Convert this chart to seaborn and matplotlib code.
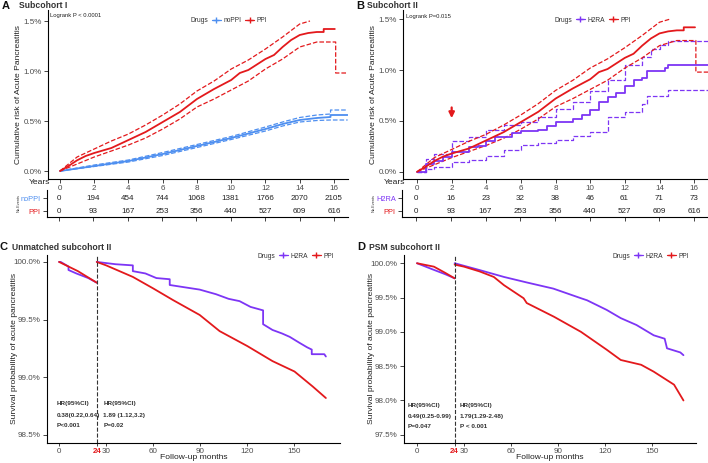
import numpy as np
import pandas as pd
import seaborn as sns
import matplotlib
matplotlib.use('Agg')
import matplotlib.pyplot as plt
from matplotlib.lines import Line2D

sns.set_style('ticks')
plt.rcParams['font.family'] = ['Liberation Sans', 'DejaVu Sans']

BLUE = '#4E8FF0'
RED = '#E3191C'
PURPLE = '#7D35F5'
GREY = '#4D4D4D'

# ---------------- data: cumulative risk (%) ----------------
ppi_t = [0, 0.5, 1, 1.5, 2, 3, 4, 5, 6, 7, 8, 9, 10, 10.5, 11, 12, 12.5, 13, 13.5, 14, 14.5, 15, 15.4, 15.4, 16.05]
ppi_v = [0, 0.05, 0.107, 0.15, 0.18, 0.23, 0.31, 0.39, 0.49, 0.59, 0.72, 0.82, 0.91, 0.98, 1.01, 1.12, 1.16, 1.24, 1.31, 1.36, 1.38, 1.39, 1.39, 1.42, 1.42]
ppi_up_t = [0, 1, 2, 3, 4, 5, 6, 7, 8, 9, 10, 11, 12, 13, 14, 14.6]
ppi_up_v = [0, 0.14, 0.22, 0.3, 0.37, 0.46, 0.56, 0.67, 0.8, 0.9, 1.02, 1.11, 1.22, 1.34, 1.47, 1.5]
ppi_lo_t = [0, 1, 2, 3, 4, 5, 6, 7, 8, 9, 10, 11, 12, 13, 14, 15, 16.1, 16.1, 16.8]
ppi_lo_v = [0, 0.07, 0.14, 0.2, 0.26, 0.33, 0.42, 0.52, 0.64, 0.72, 0.81, 0.9, 1.02, 1.12, 1.24, 1.29, 1.29, 0.98, 0.98]

noppi_t = [0, 2, 4, 6, 8, 10, 12, 13, 14, 15, 15.8, 15.8, 16.8]
noppi_v = [0, 0.05, 0.1, 0.17, 0.25, 0.33, 0.42, 0.47, 0.51, 0.53, 0.54, 0.56, 0.56]
noppi_up_v = [0, 0.06, 0.11, 0.185, 0.265, 0.345, 0.44, 0.49, 0.535, 0.56, 0.57, 0.61, 0.61]
noppi_lo_v = [0, 0.045, 0.09, 0.155, 0.235, 0.315, 0.40, 0.45, 0.49, 0.505, 0.51, 0.51, 0.51]

h2ra_t = [0, 0.5, 1, 1.5, 2, 3, 3.5, 4, 4.5, 5.5, 6, 7, 7.5, 8, 9, 9.5, 10, 10.5, 11, 11.5, 12, 12.5, 13, 13.3, 14.3, 14.5, 16.8]
h2ra_v = [0, 0.08, 0.11, 0.15, 0.2, 0.24, 0.25, 0.3, 0.34, 0.38, 0.4, 0.41, 0.45, 0.49, 0.52, 0.56, 0.61, 0.69, 0.74, 0.77, 0.84, 0.9, 0.92, 0.99, 1.02, 1.05, 1.05]
h2ra_up_t = [0, 0.5, 1, 2, 3, 4, 5, 6, 7, 8, 9, 10, 11, 12, 13, 13.5, 14, 14.5, 16.8]
h2ra_up_v = [0, 0.13, 0.18, 0.3, 0.34, 0.41, 0.46, 0.49, 0.54, 0.62, 0.69, 0.79, 0.9, 1.05, 1.13, 1.21, 1.25, 1.29, 1.29]
h2ra_lo_t = [0, 0.5, 1, 2, 3, 4, 5, 6, 7, 8, 9, 10, 11, 12, 13, 13.3, 14.5, 16.8]
h2ra_lo_v = [0, 0.03, 0.05, 0.1, 0.12, 0.16, 0.21, 0.26, 0.28, 0.31, 0.35, 0.39, 0.54, 0.59, 0.67, 0.75, 0.8, 0.8]

years = [0, 2, 4, 6, 8, 10, 12, 14, 16]
events_noppi = [0, 194, 454, 744, 1068, 1381, 1766, 2070, 2105]
events_ppi = [0, 93, 167, 253, 356, 440, 527, 609, 616]
events_h2ra = [0, 16, 23, 32, 38, 46, 61, 71, 73]

# ---------------- data: survival probability (%) ----------------
c_h2ra_pre_t = [0, 1, 6, 6, 11, 18.6, 24]
c_h2ra_pre_v = [100, 100, 99.96, 99.93, 99.9, 99.86, 99.82]
c_ppi_pre_t = [0, 6, 12, 18, 24]
c_ppi_pre_v = [100, 99.96, 99.92, 99.87, 99.82]
c_h2ra_post_t = [24, 30, 36, 47, 47, 55, 62, 70.5, 70.5, 80, 89.6, 100, 108, 115, 122, 130, 130, 136, 142, 147, 153, 158, 161, 161, 169, 170]
c_h2ra_post_v = [100, 99.99, 99.98, 99.97, 99.92, 99.9, 99.86, 99.85, 99.8, 99.78, 99.76, 99.72, 99.68, 99.66, 99.61, 99.58, 99.46, 99.41, 99.38, 99.35, 99.3, 99.26, 99.24, 99.2, 99.2, 99.18]
c_ppi_post_t = [24, 30, 47, 60, 72.5, 89.6, 102.3, 120, 136, 150, 161.6, 170]
c_ppi_post_v = [100, 99.97, 99.87, 99.77, 99.67, 99.54, 99.40, 99.27, 99.14, 99.05, 98.92, 98.82]

d_h2ra_pre_t = [0, 10, 18, 24]
d_h2ra_pre_v = [100, 99.91, 99.84, 99.78]
d_ppi_pre_t = [0, 10.8, 18, 24]
d_ppi_pre_v = [100, 99.95, 99.86, 99.78]
d_h2ra_post_t = [24, 40, 55.5, 70, 87, 104.6, 108.5, 121, 130, 140, 151, 158, 159.5, 168, 170]
d_h2ra_post_v = [100, 99.9, 99.8, 99.72, 99.63, 99.49, 99.46, 99.32, 99.2, 99.1, 98.95, 98.9, 98.76, 98.7, 98.66]
d_ppi_post_t = [24, 30, 40, 49, 55.5, 68, 70, 87.4, 104.6, 121, 130, 143, 151, 164, 170]
d_ppi_post_v = [99.98, 99.95, 99.88, 99.8, 99.68, 99.49, 99.42, 99.22, 99.0, 98.74, 98.59, 98.52, 98.42, 98.23, 98.0]

months_ticks = [0, 24, 30, 60, 90, 120, 150]

fig = plt.figure(figsize=(7.08, 4.63), dpi=100)

TICK_FS = 5.8
LABEL_FS = 6.1


def add_ax(l, t, r, b):
    return fig.add_axes([l / 708, 1 - b / 463, (r - l) / 708, (b - t) / 463])


def line(ax, t, v, color, dashed=False, steps=False):
    df = pd.DataFrame({'t': t, 'v': v})
    kw = dict(linestyle='--', linewidth=0.9) if dashed else dict(linewidth=1.3)
    if steps:
        kw['drawstyle'] = 'steps-post'
    sns.lineplot(data=df, x='t', y='v', estimator=None, sort=False,
                 color=color, ax=ax, legend=False, **kw)


def style(ax):
    for s in ['top', 'right']:
        ax.spines[s].set_visible(False)
    for s in ['left', 'bottom']:
        ax.spines[s].set_linewidth(0.8)
        ax.spines[s].set_color('black')
    ax.tick_params(labelsize=TICK_FS, labelcolor=GREY, length=3, width=0.6, pad=1.5)
    ax.set_xlabel('')
    ax.set_ylabel('')


def legend(ax, names, colors, x, y):
    handles = [Line2D([], [], color='none')]
    handles += [Line2D([], [], color=c, marker='+', markersize=5, linewidth=0.9) for c in colors]
    ax.legend(handles, ['Drugs'] + names, ncol=3, loc='center', frameon=False,
              bbox_to_anchor=(x / 708, 1 - y / 463), bbox_transform=fig.transFigure,
              fontsize=4.8, handlelength=1.3, handletextpad=0.4, columnspacing=0.6,
              labelcolor='#333333')


def risk_table(l, r, ax_main, names, colors, rows):
    axt = add_ax(l, 190, r, 217)
    axt.set_xlim(ax_main.get_xlim())
    axt.set_ylim(-0.46, 1.62)
    for yi, vals in zip([1, 0], rows):
        for x, n in zip(years, vals):
            axt.text(x, yi, str(n), ha='center', va='center', fontsize=TICK_FS, color='#222222')
    axt.set_xticks(years)
    axt.set_xticklabels([])
    axt.set_yticks([1, 0])
    axt.set_yticklabels(names)
    style(axt)
    axt.tick_params(axis='y', labelsize=5.3)
    for lab, c in zip(axt.get_yticklabels(), colors):
        lab.set_color(c)
    axt.text(-28 / (r - l), 0.5, 'No.Events', rotation=90, transform=axt.transAxes,
             ha='center', va='center', fontsize=2.8, color='#333333')
    return axt


def risk_axis(ax, xlim, ylim, lab_x):
    ax.set_xlim(*xlim)
    ax.set_ylim(*ylim)
    ax.set_xticks(years)
    ax.set_yticks([0, 0.5, 1.0, 1.5])
    ax.set_yticklabels(['0.0%', '0.5%', '1.0%', '1.5%'])
    style(ax)
    ax.set_ylabel('Cumulative risk of Acute Pancreatitis', fontsize=LABEL_FS, color='#222222')
    ax.yaxis.set_label_coords(lab_x, 0.5)


# ---------------- panel A ----------------
axA = add_ax(48, 10, 348, 179)
line(axA, noppi_t, noppi_up_v, BLUE, dashed=True)
line(axA, noppi_t, noppi_lo_v, BLUE, dashed=True)
line(axA, noppi_t, noppi_v, BLUE)
line(axA, ppi_up_t, ppi_up_v, RED, dashed=True)
line(axA, ppi_lo_t, ppi_lo_v, RED, dashed=True)
line(axA, ppi_t, ppi_v, RED)
risk_axis(axA, (-0.7, 16.82), (-0.08, 1.61), -0.087)
axA.text(-0.6, 1.56, 'Logrank P < 0.0001', fontsize=4.2, color='#222222', va='center')
legend(axA, ['noPPI', 'PPI'], [BLUE, RED], 223, 21)
fig.text(40 / 708, 1 - 183 / 463, 'Years', fontsize=TICK_FS + 0.3, ha='center', va='center', color='#222222')
risk_table(47, 348, axA, ['noPPI', 'PPI'], [BLUE, RED], [events_noppi, events_ppi])

# ---------------- panel B ----------------
axB = add_ax(403, 10, 708, 179)
line(axB, h2ra_up_t, h2ra_up_v, PURPLE, dashed=True, steps=True)
line(axB, h2ra_lo_t, h2ra_lo_v, PURPLE, dashed=True, steps=True)
line(axB, ppi_up_t, ppi_up_v, RED, dashed=True)
line(axB, ppi_lo_t, ppi_lo_v, RED, dashed=True)
line(axB, h2ra_t, h2ra_v, PURPLE, steps=True)
line(axB, ppi_t, ppi_v, RED)
risk_axis(axB, (-0.81, 16.8), (-0.07, 1.59), -0.085)
axB.text(-0.65, 1.53, 'Logrank P=0.015', fontsize=4.2, color='#222222', va='center')
legend(axB, ['H2RA', 'PPI'], [PURPLE, RED], 587, 20)
axB.annotate('', xy=(2, 0.5), xytext=(2, 0.66),
             arrowprops=dict(arrowstyle='-|>', color=RED, lw=1.6, mutation_scale=8))
fig.text(395 / 708, 1 - 183 / 463, 'Years', fontsize=TICK_FS + 0.3, ha='center', va='center', color='#222222')
risk_table(402, 708, axB, ['H2RA', 'PPI'], [PURPLE, RED], [events_h2ra, events_ppi])


# ---------------- panels C / D ----------------
def surv_panel(ax, h_pre, p_pre, h_post, p_post, xlim, ylim, yticks, hr_y, left_txt, right_txt, lx, rx, lab_x):
    line(ax, *h_pre, PURPLE)
    line(ax, *p_pre, RED)
    line(ax, *h_post, PURPLE)
    line(ax, *p_post, RED)
    ax.axvline(24, color='#333333', linestyle='--', linewidth=0.8)
    ax.set_xlim(*xlim)
    ax.set_ylim(*ylim)
    ax.set_yticks(yticks)
    ax.set_yticklabels([f'{v:.1f}%' for v in yticks])
    ax.set_xticks(months_ticks)
    ax.set_xticklabels([str(m) for m in months_ticks])
    style(ax)
    ax.tick_params(axis='x', length=2.5, pad=0.8)
    lab24 = ax.get_xticklabels()[1]
    lab24.set_color(RED)
    lab24.set_fontweight('bold')
    ax.set_xlabel('Follow-up months', fontsize=LABEL_FS, color='#222222')
    ax.xaxis.set_label_coords(0.5, -0.06)
    ax.set_ylabel('Survival probability of acute pancreatitis', fontsize=LABEL_FS, color='#222222')
    ax.yaxis.set_label_coords(lab_x, 0.5)
    for x, lines in [(lx, left_txt), (rx, right_txt)]:
        for yy, s in zip(hr_y, lines):
            ax.text(x, yy, s, fontsize=4.6, fontweight='bold', color='#333333', va='center')


axC = add_ax(47, 255, 340, 443)
surv_panel(axC, (c_h2ra_pre_t, c_h2ra_pre_v), (c_ppi_pre_t, c_ppi_pre_v),
           (c_h2ra_post_t, c_h2ra_post_v), (c_ppi_post_t, c_ppi_post_v),
           (-7.7, 179), (98.43, 100.06), [98.5, 99.0, 99.5, 100.0],
           [98.77, 98.67, 98.58],
           ['HR(95%CI)', '0.38(0.22,0.64)', 'P<0.001'],
           ['HR(95%CI)', '1.89 (1.12,3.2)', 'P=0.02'], -1.5, 28.2, -0.099)
legend(axC, ['H2RA', 'PPI'], [PURPLE, RED], 290, 256)

axD = add_ax(404, 255, 696, 443)
surv_panel(axD, (d_h2ra_pre_t, d_h2ra_pre_v), (d_ppi_pre_t, d_ppi_pre_v),
           (d_h2ra_post_t, d_h2ra_post_v), (d_ppi_post_t, d_ppi_post_v),
           (-8.3, 178), (97.38, 100.12), [97.5, 98.0, 98.5, 99.0, 99.5, 100.0],
           [97.93, 97.77, 97.62],
           ['HR(95%CI)', '0.49(0.25-0.99)', 'P=0.047'],
           ['HR(95%CI)', '1.79(1.29-2.48)', 'P < 0.001'], -5.7, 27.4, -0.099)
legend(axD, ['H2RA', 'PPI'], [PURPLE, RED], 645, 256)

# ---------------- titles ----------------
for lx, tx, y, letter, title in [(2, 19, 6, 'A', 'Subcohort I'), (356, 367, 6, 'B', 'Subcohort II'),
                                 (0, 12, 247, 'C', 'Unmatched subcohort II'), (357, 369, 247, 'D', 'PSM subcohort II')]:
    fig.text(lx / 708, 1 - y / 463, letter, fontsize=8, fontweight='bold', va='center', color='#111111')
    fig.text(tx / 708, 1 - y / 463, title, fontsize=6.2, fontweight='bold', va='center', color='#333333')

fig.savefig('out.png', dpi=100)
